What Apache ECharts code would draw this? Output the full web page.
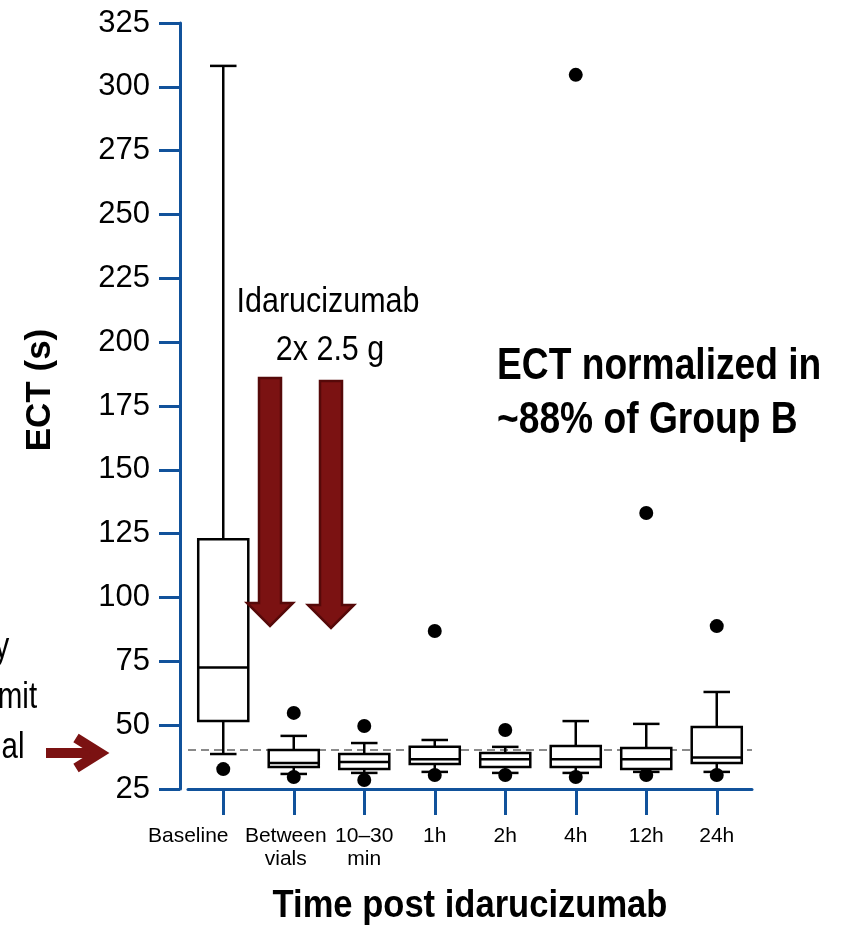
<!DOCTYPE html>
<html><head><meta charset="utf-8">
<script src="https://cdn.jsdelivr.net/npm/echarts@6/dist/echarts.min.js"></script>
<style>html,body{margin:0;padding:0;background:#fff}#c{width:859px;height:933px}</style>
</head><body><div id="c"></div>
<script>
// ---- data ----
const categories = ['Baseline', 'Between\nvials', '10–30\nmin', '1h', '2h', '4h', '12h', '24h'];
const labelShift = [70, 16, 0, 0, 0, 0, 0, 0];
const whiskerLow  = [38.7, 30.9, 31.3, 31.7, 31.3, 31.3, 31.7, 31.7];
const q1          = [51.6, 33.6, 32.8, 34.8, 33.6, 33.6, 32.8, 35.2];
const median      = [72.6, 35.2, 35.6, 36.7, 36.7, 36.7, 36.7, 37.3];
const q3          = [122.8, 40.3, 38.7, 41.5, 39.1, 41.8, 41.1, 49.3];
const whiskerHigh = [308.2, 45.8, 43.0, 44.2, 41.5, 51.6, 50.5, 63.0];
const outlierCategory = [0, 0, 1, 1, 2, 2, 3, 3, 4, 4, 5, 5, 6, 6, 7, 7];
const outlierValue    = [325.5, 32.8, 54.8, 29.7, 49.7, 28.5, 86.9, 30.5, 48.1, 30.5, 304.7, 29.7, 133.1, 30.5, 88.8, 30.5];
const referenceLine = 40.3;
const yMin = 25, yMax = 325, yStep = 25;

// ---- build ----
const BLUE = '#11529b';
const RED = '#7b1212';
const RED_DARK = '#560909';
const SANS = '"Liberation Sans", Arial, sans-serif';

const boxData = categories.map((c, i) => [i, whiskerLow[i], q1[i], median[i], q3[i], whiskerHigh[i]]);
const outlierData = outlierCategory.map((c, i) => [c, outlierValue[i]]);

const chart = echarts.init(document.getElementById('c'), null, {renderer: 'canvas'});

function renderBox(params, api) {
  const x = api.value(0);
  const lo = api.coord([x, api.value(1)]);
  const b1 = api.coord([x, api.value(2)]);
  const md = api.coord([x, api.value(3)]);
  const b3 = api.coord([x, api.value(4)]);
  const hi = api.coord([x, api.value(5)]);
  const bw = api.size([1, 0])[0] * 0.71;
  const cw = bw * 0.53;
  const cx = md[0];
  const st = {stroke: '#000', lineWidth: 2.5, fill: null};
  return {
    type: 'group',
    children: [
      {type: 'line', shape: {x1: cx, y1: hi[1], x2: cx, y2: b3[1]}, style: st},
      {type: 'line', shape: {x1: cx - cw / 2, y1: hi[1], x2: cx + cw / 2, y2: hi[1]}, style: st},
      {type: 'line', shape: {x1: cx, y1: lo[1], x2: cx, y2: b1[1]}, style: st},
      {type: 'line', shape: {x1: cx - cw / 2, y1: lo[1], x2: cx + cw / 2, y2: lo[1]}, style: st},
      {type: 'rect', shape: {x: cx - bw / 2, y: b3[1], width: bw, height: b1[1] - b3[1]},
        style: {fill: '#fff', stroke: '#000', lineWidth: 2.5}},
      {type: 'line', shape: {x1: cx - bw / 2, y1: md[1], x2: cx + bw / 2, y2: md[1]}, style: st}
    ]
  };
}

function downArrow(cx, top, headTop, tip, shaftW, headW) {
  return {
    type: 'polygon', z: 50,
    shape: {points: [
      [cx - shaftW / 2, top], [cx + shaftW / 2, top], [cx + shaftW / 2, headTop],
      [cx + headW / 2, headTop], [cx, tip], [cx - headW / 2, headTop], [cx - shaftW / 2, headTop]
    ]},
    style: {fill: RED, stroke: RED_DARK, lineWidth: 2.5, lineJoin: 'miter'}
  };
}

function label(text, x, y, font, sx, align) {
  return {type: 'text', z: 60, x: x, y: y, scaleX: sx,
    style: {text: text, font: font, fill: '#000', align: align || 'center', verticalAlign: 'middle'}};
}

const option = {
  backgroundColor: '#fff',
  animation: false,
  grid: {left: 188, right: 107, top: 23, bottom: 144, containLabel: false},
  xAxis: {
    type: 'category',
    data: categories.map((c, i) => ({value: c, textStyle: {padding: [0, labelShift[i], 0, 0]}})),
    boundaryGap: true,
    axisLine: {show: true, lineStyle: {color: BLUE, width: 3}},
    axisTick: {show: true, alignWithLabel: true, length: 26, lineStyle: {color: BLUE, width: 3}},
    axisLabel: {interval: 0, color: '#000', fontFamily: SANS, fontSize: 21, lineHeight: 23, margin: 36},
    splitLine: {show: false}
  },
  yAxis: {
    type: 'value', min: yMin, max: yMax, interval: yStep, offset: 8,
    axisLine: {show: true, lineStyle: {color: BLUE, width: 3}},
    axisTick: {show: true, length: 21, lineStyle: {color: BLUE, width: 3}},
    axisLabel: {color: '#000', fontFamily: SANS, fontSize: 31, margin: 30},
    splitLine: {show: false}
  },
  series: [
    {
      type: 'line', data: [], z: 1, silent: true,
      markLine: {
        silent: true, symbol: ['none', 'none'], label: {show: false},
        lineStyle: {color: '#8a8a8a', type: [8, 5], width: 2},
        data: [{yAxis: referenceLine}]
      }
    },
    {
      type: 'custom', z: 5, data: boxData, renderItem: renderBox,
      encode: {x: 0, y: [1, 2, 3, 4, 5]}
    },
    {
      type: 'scatter', z: 10, data: outlierData, symbol: 'circle', symbolSize: 14,
      itemStyle: {color: '#000', opacity: 1}
    }
  ],
  graphic: [
    downArrow(270, 378, 603, 626, 22, 46),
    downArrow(331, 381, 605, 628, 22, 46),
    {type: 'polyline', z: 50, shape: {points: [[46, 753], [98, 753]]},
      style: {stroke: RED, lineWidth: 10, fill: null}},
    {type: 'polyline', z: 50, shape: {points: [[76, 738], [100, 753], [76, 768]]},
      style: {stroke: RED, lineWidth: 10, fill: null, lineJoin: 'miter'}},
    label('Idarucizumab', 328, 302, '35px ' + SANS, 0.87),
    label('2x 2.5 g', 330, 350, '35px ' + SANS, 0.87),
    label('ECT normalized in', 497, 367, 'bold 44px ' + SANS, 0.845, 'left'),
    label('~88% of Group B', 497, 421, 'bold 44px ' + SANS, 0.845, 'left'),
    label('Time post idarucizumab', 470, 906, 'bold 39px ' + SANS, 0.886),
    {type: 'text', z: 60, x: 40, y: 390, rotation: Math.PI / 2,
      style: {text: 'ECT (s)', font: 'bold 35px ' + SANS, fill: '#000', align: 'center', verticalAlign: 'middle'}},
    label('Assay', -31, 648, '36px ' + SANS, 0.82),
    label('upper limit', -31, 698, '36px ' + SANS, 0.82),
    label('of normal', -37, 748, '36px ' + SANS, 0.82)
  ]
};
chart.setOption(option);
</script>
</body></html>
